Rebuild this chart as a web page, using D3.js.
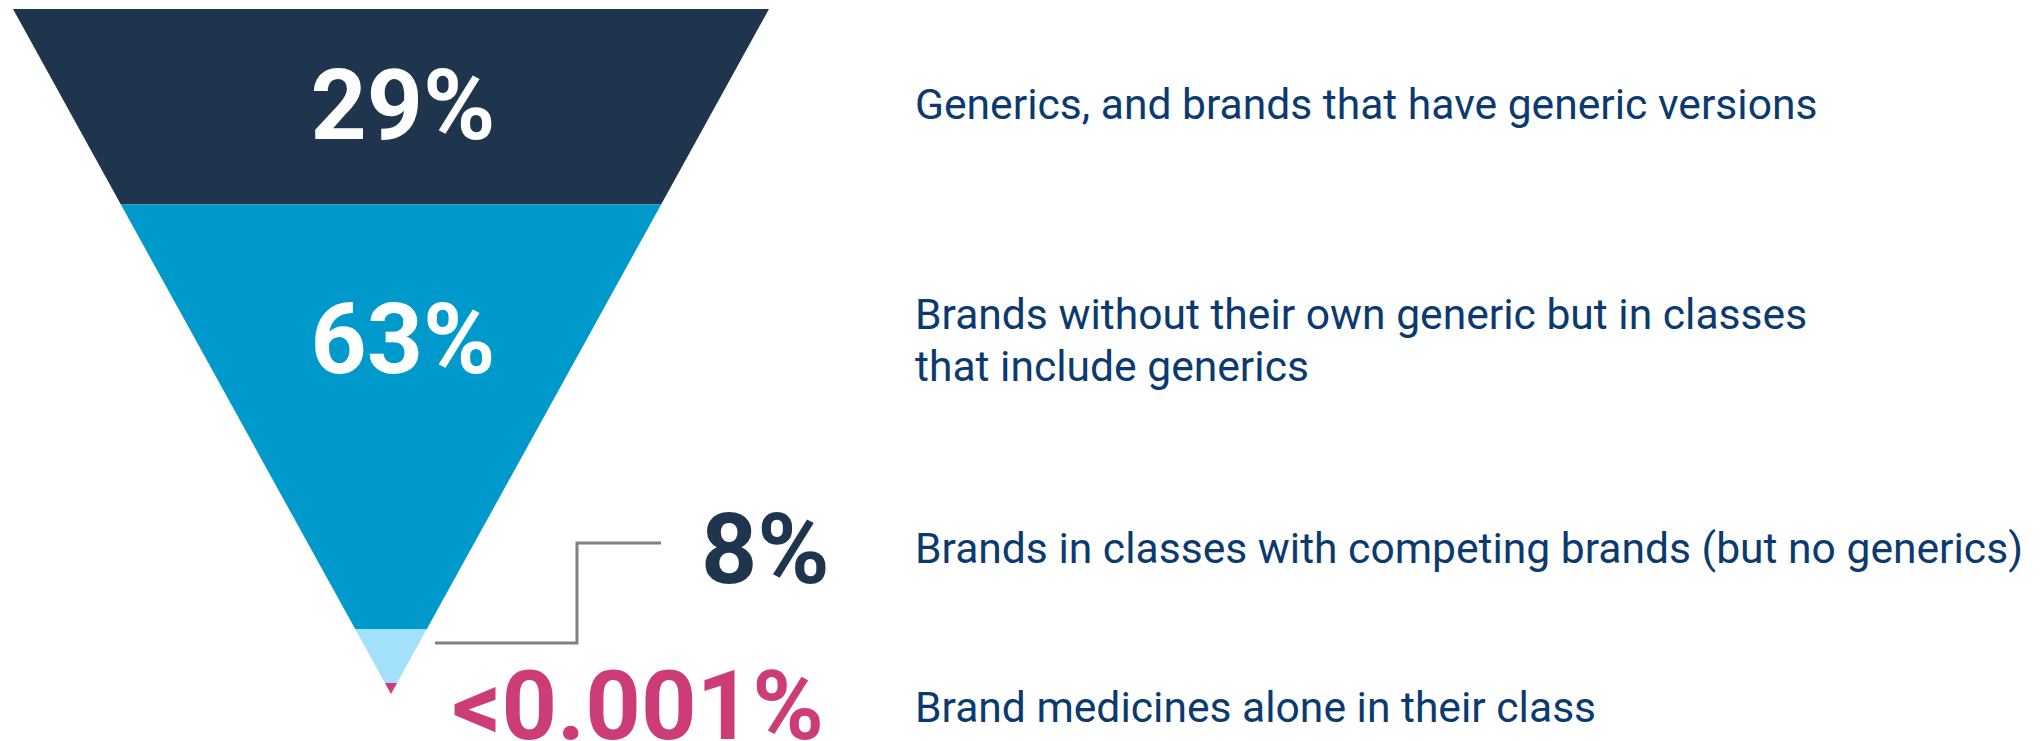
<!DOCTYPE html>
<html>
<head>
<meta charset="utf-8">
<script src="https://cdn.jsdelivr.net/npm/d3@7"></script>
<style>
  body { margin: 0; background: #fff; }
  text { font-family: Roboto, "Noto Sans", sans-serif; }
</style>
</head>
<body>
<div class="container"></div>
<script>
const categories = [
  ["Generics, and brands that have generic versions"],
  ["Brands without their own generic but in classes", "that include generics"],
  ["Brands in classes with competing brands (but no generics)"],
  ["Brand medicines alone in their class"]
];
const shares = [29, 63, 8, 0.001];
const valueLabels = ["29%", "63%", "8%", "<0.001%"];
const colors = ["#1f344d", "#0099cc", "#a3e0fa", "#cc3c77"];

const width = 2041, height = 741;
const topY = 9, bottomY = 683, apexY = 694, cx = 391, halfTop = 378;

let svg = d3.select(".container")
  .append("svg")
  .attr("width", width)
  .attr("height", height);

// vertical position of the cumulative share
let y = d3.scaleLinear().domain([0, 100]).range([topY, bottomY]);
// half width of the funnel at a given y
let half = d3.scaleLinear().domain([apexY, topY]).range([0, halfTop]);

let cum = 0;
let bands = shares.map((s, i) => {
  let y0 = y(cum);
  cum += s;
  let y1 = i == shares.length - 1 ? apexY : y(cum);
  return { y0: y0, y1: y1, i: i };
});

svg.append("g")
  .attr("class", "funnel")
  .selectAll("path")
  .data(bands)
  .join("path")
  .attr("d", d => {
    let a = half(d.y0), b = half(d.y1);
    return `M ${cx - a} ${d.y0} L ${cx + a} ${d.y0} L ${cx + b} ${d.y1} L ${cx - b} ${d.y1} Z`;
  })
  .attr("fill", d => colors[d.i]);

// connector from the small band to its label
let linkY = bands[2].y0 + 14;
svg.append("path")
  .attr("d", `M ${cx + half(linkY) + 16} ${linkY} H 577 V 543 H 661`)
  .attr("fill", "none")
  .attr("stroke", "#808080")
  .attr("stroke-width", 3);

// value labels
let valuePos = [
  { x: 403, y: 139, anchor: "middle", fill: "#fff" },
  { x: 403, y: 373, anchor: "middle", fill: "#fff" },
  { x: 701, y: 583, anchor: "start", fill: "#1f344d" },
  { x: 452, y: 739, anchor: "start", fill: "#cc3c77" }
];
svg.append("g")
  .selectAll("text")
  .data(valueLabels)
  .join("text")
  .attr("x", (d, i) => valuePos[i].x)
  .attr("y", (d, i) => valuePos[i].y)
  .attr("text-anchor", (d, i) => valuePos[i].anchor)
  .attr("fill", (d, i) => valuePos[i].fill)
  .attr("font-size", (d, i) => i == 3 ? 97 : 98)
  .attr("font-weight", 700)
  .text(d => d);

// category descriptions
let labelY = [119, 329, 563, 722];
let labels = svg.append("g")
  .selectAll("text")
  .data(categories)
  .join("text")
  .attr("x", 915)
  .attr("y", (d, i) => labelY[i])
  .attr("fill", "#0b3a6e")
  .attr("font-size", 42.6);
labels.selectAll("tspan")
  .data(d => d)
  .join("tspan")
  .attr("x", 915)
  .attr("dy", (d, j) => j ? 52 : 0)
  .text(d => d);
</script>
</body>
</html>
